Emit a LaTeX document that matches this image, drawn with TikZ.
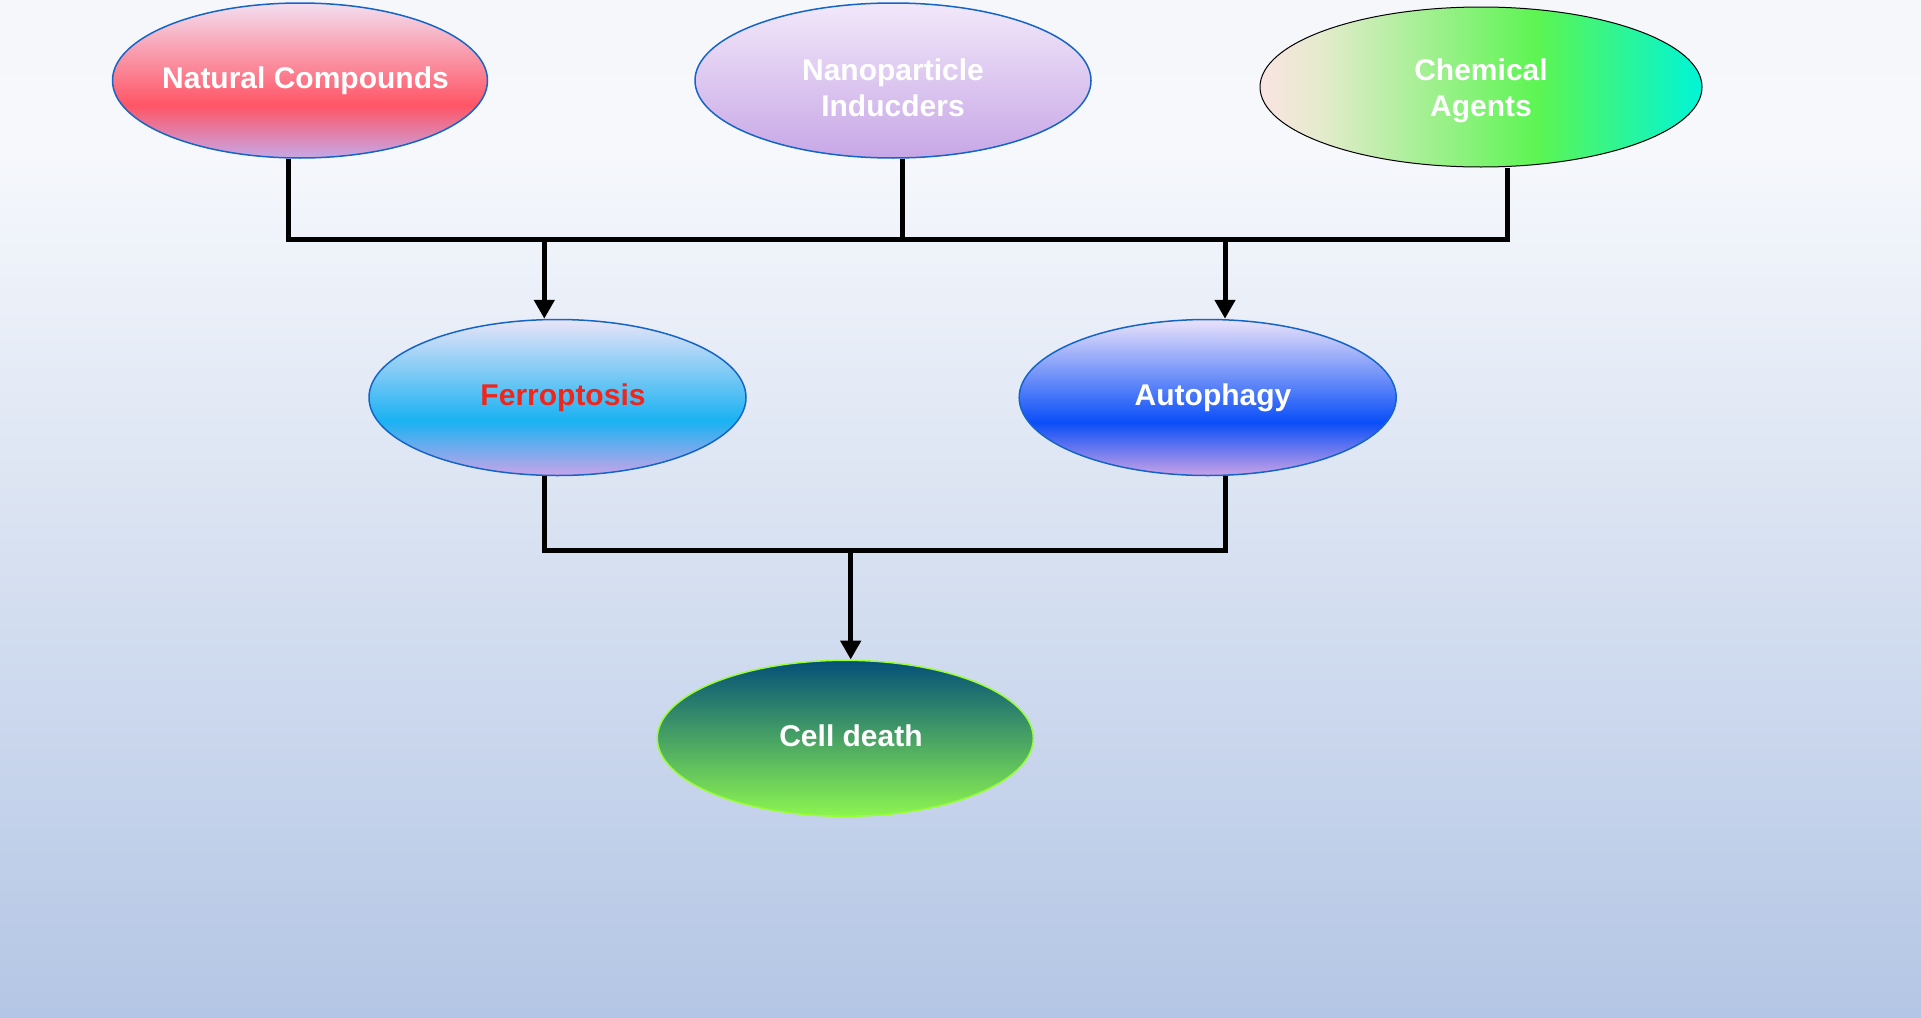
\documentclass[tikz,border=0pt]{standalone}
\usepackage{fontspec}
\setmainfont{Liberation Sans}
\usetikzlibrary{shapes.geometric,arrows.meta}
% background
\definecolor{bgA}{HTML}{F5F7FB}
\definecolor{bgB}{HTML}{F6F8FC}
\definecolor{bgC}{HTML}{B4C6E5}
\pgfdeclareverticalshading{bgshade}{100bp}{color(0bp)=(bgC); color(25bp)=(bgC); color(67.6bp)=(bgB); color(75bp)=(bgA); color(100bp)=(bgA)}
% natural compounds
\definecolor{natT}{HTML}{F3DEF0}
\definecolor{natM}{HTML}{FF5565}
\definecolor{natB}{HTML}{C6A8E8}
\pgfdeclareverticalshading{natshade}{100bp}{color(0bp)=(natB); color(25bp)=(natB); color(42bp)=(natM); color(75bp)=(natT); color(100bp)=(natT)}
% nanoparticle
\definecolor{nanT}{HTML}{F2E8FA}
\definecolor{nanB}{HTML}{C7A7E6}
\pgfdeclareverticalshading{nanshade}{100bp}{color(0bp)=(nanB); color(25bp)=(nanB); color(75bp)=(nanT); color(100bp)=(nanT)}
% chemical agents
\definecolor{chA}{HTML}{FAE4E2}
\definecolor{chB}{HTML}{E4EBCC}
\definecolor{chC}{HTML}{5CF552}
\definecolor{chD}{HTML}{00F5D8}
\pgfdeclarehorizontalshading{chemshade}{100bp}{color(0bp)=(chA); color(25bp)=(chA); color(32bp)=(chB); color(56.5bp)=(chC); color(75bp)=(chD); color(100bp)=(chD)}
% ferroptosis
\definecolor{feT}{HTML}{E9E4F8}
\definecolor{feM}{HTML}{1AB2F2}
\definecolor{feB}{HTML}{C8A4E8}
\pgfdeclareverticalshading{feshade}{100bp}{color(0bp)=(feB); color(25bp)=(feB); color(42.5bp)=(feM); color(75bp)=(feT); color(100bp)=(feT)}
% autophagy
\definecolor{auT}{HTML}{EAE2FA}
\definecolor{auM}{HTML}{0A4EF8}
\definecolor{auB}{HTML}{C9A2E6}
\pgfdeclareverticalshading{aushade}{100bp}{color(0bp)=(auB); color(25bp)=(auB); color(42bp)=(auM); color(75bp)=(auT); color(100bp)=(auT)}
% cell death
\definecolor{ceT}{HTML}{045078}
\definecolor{ceB}{HTML}{8CF550}
\pgfdeclareverticalshading{ceshade}{100bp}{color(0bp)=(ceB); color(25bp)=(ceB); color(75bp)=(ceT); color(100bp)=(ceT)}
% strokes and text
\definecolor{ovalblue}{HTML}{1565C8}
\definecolor{celledge}{HTML}{99FF33}
\definecolor{ferrored}{HTML}{F0261C}
\begin{document}
\begin{tikzpicture}[x=1pt,y=-1pt,
  oval/.style={ellipse, inner sep=0pt, draw=ovalblue, line width=1.5pt},
  lbl/.style={inner sep=0pt, text=white, align=center,
    font=\bfseries\fontsize{30}{36}\selectfont},
  lbl1/.style={lbl, text height=22pt, text depth=6.3pt},
  wire/.style={line width=5pt, black, line join=miter},
  arrowwire/.style={wire, -{Triangle[width=20pt,length=19pt]}}
]
\useasboundingbox (0,0) rectangle (1921,1017);
\path[shading=bgshade] (0,0) rectangle (1921,1017);

\node[oval, shading=natshade, minimum width=375pt, minimum height=155pt] (nat) at (300,80.5) {};
\node[oval, shading=nanshade, minimum width=396pt, minimum height=155pt] (nano) at (893,80.5) {};
\node[oval, shading=chemshade, draw=black, line width=1pt, minimum width=442pt, minimum height=160pt] (chem) at (1481,87) {};
\node[oval, shading=feshade, minimum width=377pt, minimum height=156pt] (ferro) at (557.5,397.5) {};
\node[oval, shading=aushade, minimum width=377pt, minimum height=156pt] (auto) at (1207.7,397.5) {};
\node[oval, shading=ceshade, draw=celledge, minimum width=376pt, minimum height=156pt] (cell) at (845.3,738.3) {};

\node[lbl1, xshift=5.5pt] (natL) at (nat.center) {Natural Compounds};
\node[lbl, yshift=-7pt] (nanoL) at (nano.center) {Nanoparticle\\Inducders};
\node[lbl, yshift=-3.5pt] (chemL) at (chem.center) {Chemical\\Agents};
\node[lbl1, text=ferrored, xshift=5.5pt] (ferroL) at (ferro.center) {Ferroptosis};
\node[lbl1, xshift=5.3pt] (autoL) at (auto.center) {Autophagy};
\node[lbl1, xshift=5.7pt, yshift=-0.5pt] (cellL) at (cell.center) {Cell death};

% upper bus
\coordinate (busL) at (288.3,239);
\coordinate (busN) at (902.7,239);
\coordinate (busR) at (1507.7,239);
\coordinate (jF) at (544.3,239);
\coordinate (jA) at (1225,239);
\draw[wire] (busL |- nat.south) -- (busL) -- (busR) -- (busR |- chem.south);
\draw[wire] (busN |- nano.south) -- (busN);
\draw[arrowwire] (jF) -- (jF |- ferro.north);
\draw[arrowwire] (jA) -- (jA |- auto.north);

% lower bus
\coordinate (lowL) at (544,550);
\coordinate (lowR) at (1225.7,550);
\coordinate (jC) at (850.7,550);
\draw[wire] (lowL |- ferro.south) -- (lowL) -- (lowR) -- (lowR |- auto.south);
\draw[arrowwire] (jC) -- (jC |- cell.north);
\end{tikzpicture}
\end{document}
